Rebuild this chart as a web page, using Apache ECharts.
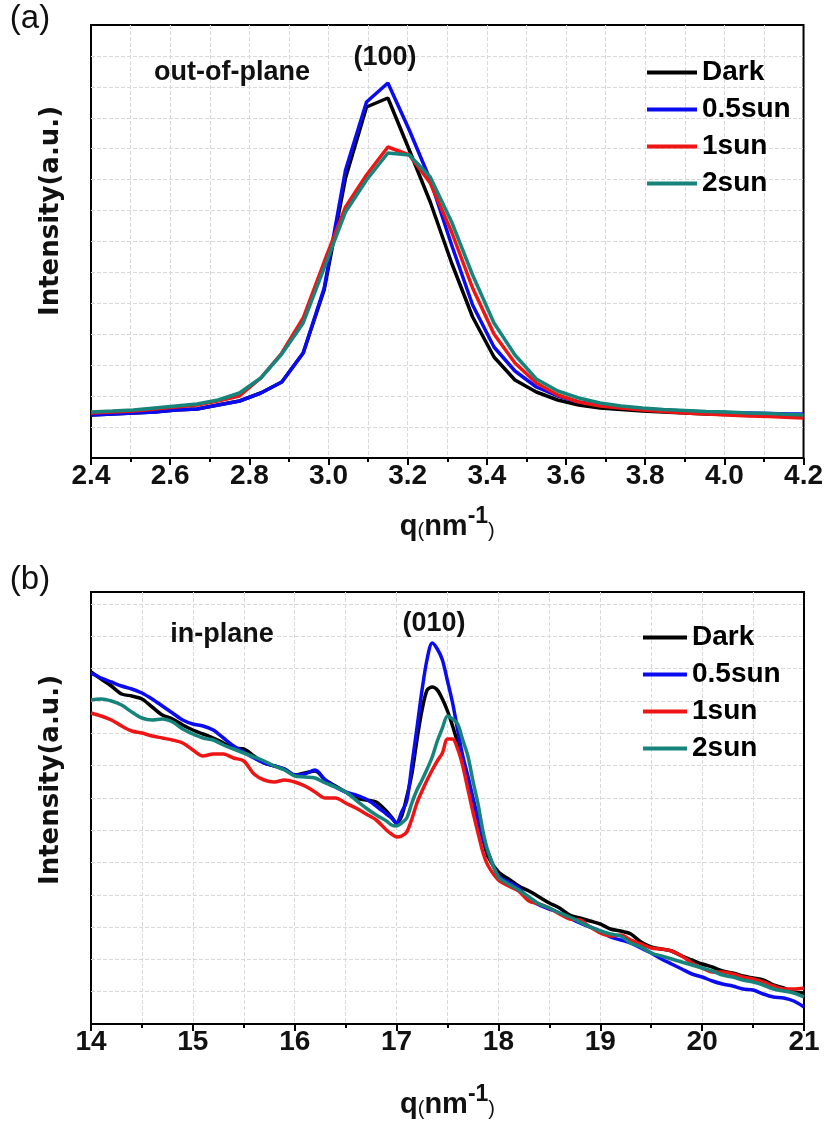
<!DOCTYPE html>
<html>
<head>
<meta charset="utf-8">
<script src="https://cdn.jsdelivr.net/npm/echarts@6/dist/echarts.min.js"></script>
<style>
html, body { margin: 0; padding: 0; background: #fff; }
#main { width: 826px; height: 1133px; }
</style>
</head>
<body>
<div id="main"></div>
<script>
// (a) out-of-plane, q in nm^-1, intensity in arbitrary units
var qA = [2.400, 2.454, 2.507, 2.561, 2.614, 2.668, 2.721, 2.775, 2.829, 2.882, 2.936, 2.989, 3.043, 3.096, 3.150, 3.204, 3.257, 3.311,
	3.364, 3.418, 3.471, 3.525, 3.579, 3.632, 3.686, 3.739, 3.793, 3.846, 3.900, 3.954, 4.007, 4.061, 4.114, 4.168, 4.200];
var darkA = [43, 44, 45, 46, 48, 49, 53, 57, 65, 76, 105, 168, 280, 351, 360, 308, 256, 195, 141, 101, 78, 66, 58, 53, 50, 48.5, 47, 46, 45, 44, 43.5, 43, 42.5, 42, 42];
var sun05A = [43, 44, 45, 46, 48, 49, 53, 57, 65, 76, 105, 170, 288, 356, 375, 328, 278, 213, 153, 111, 87, 71, 62, 56, 53, 51, 49, 48, 47, 46, 45.5, 45, 44.5, 44, 44];
var sun1A = [45, 46, 47, 49, 51, 53, 57, 62, 80, 105, 140, 196, 251, 283, 311, 303, 275, 226, 170, 124, 95, 75, 63, 56, 52, 50, 48, 46.5, 45, 44, 43, 42, 41.5, 40.5, 40];
var sun2A = [46, 47, 48, 50, 52, 54, 58, 65, 80, 104, 135, 190, 246, 278, 305, 303, 281, 236, 183, 135, 103, 79, 67, 60, 55, 52, 50, 48.5, 47.5, 46.5, 46, 45, 44.5, 43.5, 43];

// (b) in-plane
var qB = [14.0, 14.1, 14.2, 14.3, 14.4, 14.5, 14.6, 14.7, 14.8, 14.9, 15.0, 15.1, 15.2, 15.3, 15.4, 15.5, 15.6, 15.7, 15.8, 15.9,
	16.0, 16.1, 16.2, 16.3, 16.4, 16.5, 16.6, 16.7, 16.8, 16.9,
	16.95, 17.0, 17.05, 17.1, 17.15, 17.2, 17.25, 17.3, 17.35, 17.4, 17.45, 17.5, 17.55, 17.6, 17.65, 17.7, 17.75, 17.8, 17.85, 17.9,
	18.0, 18.1, 18.2, 18.3, 18.4, 18.5, 18.6, 18.7, 18.8, 18.9, 19.0, 19.1, 19.2, 19.3, 19.4, 19.5, 19.6, 19.7, 19.8, 19.9,
	20.0, 20.1, 20.2, 20.3, 20.4, 20.5, 20.6, 20.7, 20.8, 20.9, 21.0];
var darkB = [352, 345, 338, 330, 328, 325, 317, 309, 305, 299, 294, 290, 286, 281, 276, 275, 268, 261, 258, 255,
	249, 251, 253, 244, 238, 232, 226, 224, 222, 213,
	207, 201, 208, 227, 250, 284, 314, 334, 337, 334, 325, 313, 298, 281, 263, 244, 224, 204, 184, 167,
	152, 145, 138, 133, 127, 121, 116, 109, 106, 103, 100, 95, 93, 90, 82, 77, 75, 73, 68, 64,
	60, 57, 53, 51, 48, 46, 44, 39, 36, 32, 31];
var sun05B = [351, 346, 342, 338, 335, 331, 325, 318, 311, 304, 300, 298, 294, 286, 278, 272, 266, 261, 258, 255,
	249, 250, 254, 244, 237, 232, 229, 225, 218, 210,
	206, 201, 212, 223, 259, 296, 334, 365, 381, 375, 364, 343, 321, 294, 268, 248, 226, 205, 185, 171,
	148, 142, 136, 125, 119, 115, 111, 106, 101, 97, 93, 87, 84, 81, 76, 71, 65, 60, 55, 50,
	47, 43, 40, 38, 35, 34, 30, 27, 26, 23, 17];
var sun1B = [311, 308, 304, 298, 293, 291, 288, 286, 284, 281, 274, 268, 270, 270, 266, 263, 250, 244, 242, 244,
	242, 238, 232, 226, 226, 221, 216, 210, 204, 194,
	190, 187, 188, 192, 205, 221, 233, 244, 254, 263, 271, 285, 285, 275, 258, 235, 212, 191, 171, 158,
	144, 138, 133, 123, 120, 116, 110, 105, 104, 97, 91, 88, 89, 84, 80, 76, 75, 73, 68, 61,
	56, 52, 52, 50, 47, 45, 42, 38, 35, 35, 36];
var sun2B = [324, 325, 323, 319, 312, 306, 304, 305, 302, 295, 290, 286, 284, 279, 275, 271, 267, 263, 258, 254,
	248, 247, 246, 241, 237, 232, 224, 216, 209, 203,
	199, 198, 201, 206, 221, 234, 244, 255, 267, 283, 296, 308, 305, 300, 284, 268, 243, 220, 192, 172,
	147, 140, 134, 127, 120, 116, 111, 107, 102, 97, 93, 90, 88, 81, 77, 71, 68, 65, 62, 59,
	56, 53, 49, 47, 44, 42, 39, 35, 33, 31, 27];

var names = ['Dark', '0.5sun', '1sun', '2sun'];
var colors = ['#000000', '#0b0bf0', '#ee1515', '#17847c'];

var sans = "'Liberation Sans', Arial, sans-serif";

function pairs(q, v) {
	return q.map(function(x, i) {
		return [x, v[i]];
	});
}

var dashed = { type: 'dashed', color: '#d9d9d9', width: 1 };

function xAxisOf(idx, min, max, step, minorN, digits, gap) {
	return {
		gridIndex: idx,
		type: 'value',
		min: min,
		max: max,
		interval: step,
		axisLine: { show: true, onZero: false, lineStyle: { color: '#000', width: 2 } },
		axisTick: { show: true, length: 7, lineStyle: { color: '#000', width: 2 } },
		minorTick: { show: true, splitNumber: minorN, length: 4, lineStyle: { color: '#000', width: 2 } },
		splitLine: { show: true, showMinLine: false, showMaxLine: false, lineStyle: dashed },
		minorSplitLine: { show: true, lineStyle: dashed },
		axisLabel: {
			margin: 4,
			color: '#111',
			fontFamily: sans,
			fontWeight: 'bold',
			fontSize: 28,
			formatter: function(v) { return v.toFixed(digits); }
		},
		name: '{b|q}{s|(}{b|nm}{p|-1}{s|)}',
		nameLocation: 'middle',
		nameGap: gap,
		nameTextStyle: {
			rich: {
				b: { fontFamily: sans, fontWeight: 'bold', fontSize: 29, color: '#111', lineHeight: 36, verticalAlign: 'bottom' },
				s: { fontFamily: sans, fontSize: 20, color: '#111', lineHeight: 36, verticalAlign: 'bottom' },
				p: { fontFamily: sans, fontWeight: 'bold', fontSize: 23, color: '#111', lineHeight: 24, verticalAlign: 'top' }
			}
		}
	};
}

function yAxisOf(idx, max, step) {
	return {
		gridIndex: idx,
		type: 'value',
		min: 0,
		max: max,
		interval: step,
		axisLine: { show: false },
		axisTick: { show: false },
		axisLabel: { show: false },
		splitLine: { show: true, showMinLine: false, showMaxLine: false, lineStyle: dashed }
	};
}

var series = [];
[darkA, sun05A, sun1A, sun2A].forEach(function(v, i) {
	series.push({
		name: names[i], type: 'line', xAxisIndex: 0, yAxisIndex: 0,
		showSymbol: false, symbol: 'none', smooth: false,
		lineStyle: { color: colors[i], width: 3.5 }, itemStyle: { color: colors[i] },
		data: pairs(qA, v)
	});
});
[darkB, sun05B, sun1B, sun2B].forEach(function(v, i) {
	series.push({
		name: names[i], type: 'line', xAxisIndex: 1, yAxisIndex: 1,
		showSymbol: false, symbol: 'none', smooth: 0.3,
		lineStyle: { color: colors[i], width: 3.5 }, itemStyle: { color: colors[i] },
		data: pairs(qB, v)
	});
});

function legendAt(left, top, w) {
	return {
		left: left, top: top, orient: 'vertical', padding: 0,
		icon: 'rect', itemWidth: w, itemHeight: 4, itemGap: 8,
		textStyle: { fontFamily: sans, fontWeight: 'bold', fontSize: 28, lineHeight: 29, color: '#000' },
		data: names
	};
}

function label(txt, x, y, font, rot) {
	return {
		type: 'text', x: x, y: y, z: 100, rotation: rot || 0,
		style: {
			text: txt, font: font, fill: '#111',
			align: 'center', verticalAlign: 'middle',
			textAlign: 'center', textVerticalAlign: 'middle'
		}
	};
}

var myChart = echarts.init(document.getElementById('main'), null, { renderer: 'canvas' });
var option = {
	backgroundColor: '#fff',
	animation: false,
	grid: [
		{ left: 91, top: 25, width: 713, height: 433, show: true, borderColor: '#000', borderWidth: 2, backgroundColor: 'transparent' },
		{ left: 91, top: 592, width: 713, height: 432, show: true, borderColor: '#000', borderWidth: 2, backgroundColor: 'transparent' }
	],
	xAxis: [
		xAxisOf(0, 2.4, 4.2, 0.2, 2, 1, 47),
		xAxisOf(1, 14, 21, 1, 2, 0, 59)
	],
	yAxis: [
		yAxisOf(0, 433, 30.93),
		yAxisOf(1, 432, 32.3)
	],
	legend: [legendAt(647, 58, 50), legendAt(643, 623, 44)],
	graphic: [
		label('(a)', 30, 19, 'normal 33px ' + sans),
		label('(b)', 30, 580, 'normal 33px ' + sans),
		label('Intensity(a.u.)', 51, 211, "bold 26px 'DejaVu Sans', sans-serif", Math.PI / 2),
		label('Intensity(a.u.)', 51, 780, "bold 26px 'DejaVu Sans', sans-serif", Math.PI / 2),
		label('out-of-plane', 232, 73, 'bold 27px ' + sans),
		label('(100)', 385, 58, 'bold 27px ' + sans),
		label('in-plane', 222, 635, 'bold 27px ' + sans),
		label('(010)', 434, 624, 'bold 27px ' + sans)
	],
	series: series
};
myChart.setOption(option);
</script>
</body>
</html>
